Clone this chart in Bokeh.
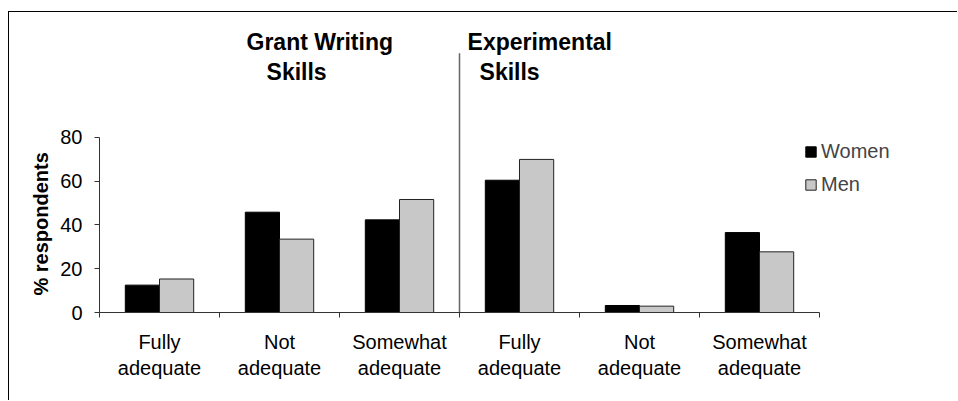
from bokeh.plotting import figure
from bokeh.models import Range1d, FixedTicker, Legend, LegendItem, ColumnDataSource, Label, Title
from bokeh.embed import file_html
from bokeh.resources import INLINE

# ---- data ----
categories = ["Fully\nadequate", "Not\nadequate", "Somewhat\nadequate",
              "Fully\nadequate", "Not\nadequate", "Somewhat\nadequate"]
women = [12.5, 45.8, 42.3, 60.4, 3.2, 36.5]
men = [15.3, 33.5, 51.6, 69.9, 2.9, 27.7]
y_ticks = [0, 20, 40, 60, 80]
panel_titles = [["Grant Writing", "Skills"], ["Experimental", "Skills"]]
series_names = ["Women", "Men"]
y_label = "% respondents"

# ---- layout constants ----
PX_X = 120.0
PX_Y = 2.19
W, H = 949, 389
LEFT, BOTTOM = 90, 89
FONT = "Liberation Sans"

n = len(categories)
centers = [i + 0.5 for i in range(n)]
bw = 0.285

frame_h = H - BOTTOM
p = figure(width=W, height=H,
           x_range=Range1d(0, (W - LEFT) / PX_X),
           y_range=Range1d(0, frame_h / PX_Y),
           output_backend="svg", toolbar_location=None,
           min_border_left=LEFT, min_border_bottom=BOTTOM,
           min_border_top=0, min_border_right=0)
p.styles = {"border-left": "1px solid #000", "border-top": "1px solid #000",
            "margin-top": "11px", "margin-left": "8px"}
p.outline_line_color = None
p.xgrid.visible = False
p.ygrid.visible = False
p.background_fill_color = "white"
p.border_fill_color = "white"

src = ColumnDataSource(dict(
    xw=[c - bw / 2 for c in centers],
    xm=[c + bw / 2 for c in centers],
    women=women, men=men))
rw = p.vbar(x="xw", top="women", width=bw, source=src,
            fill_color="black", line_color="black", line_width=1)
rm = p.vbar(x="xm", top="men", width=bw, source=src,
            fill_color="#C8C8C8", line_color="#222222", line_width=1)

# divider between the two panels
p.segment(x0=[n / 2], y0=[0], x1=[n / 2], y1=[118.4],
          line_color="#666666", line_width=1.5)

# x axis
xa = p.xaxis[0]
xa.ticker = FixedTicker(ticks=centers, minor_ticks=list(range(n + 1)))
xa.major_label_overrides = {c: lab for c, lab in zip(centers, categories)}
xa.major_tick_out = 0
xa.major_tick_in = 0
xa.minor_tick_out = 5
xa.minor_tick_in = 0
xa.minor_tick_line_color = "#333333"
xa.axis_line_color = "#333333"
xa.bounds = (0, n)
xa.major_label_standoff = 13
xa.major_label_text_font = FONT
xa.major_label_text_font_size = "20px"
xa.major_label_text_color = "black"

# y axis
ya = p.yaxis[0]
ya.ticker = FixedTicker(ticks=y_ticks, minor_ticks=[])
ya.bounds = (y_ticks[0], y_ticks[-1])
ya.major_tick_out = 5
ya.major_tick_in = 0
ya.major_tick_line_color = "#333333"
ya.axis_line_color = "#333333"
ya.major_label_standoff = 12
ya.major_label_text_font = FONT
ya.major_label_text_font_size = "20px"
ya.major_label_text_color = "black"

# y axis title, starting a little above the bottom of the axis
p.add_layout(Title(text=y_label, align="left", offset=17, standoff=12,
                   text_font=FONT, text_font_size="20px",
                   text_font_style="bold", text_color="black"), "left")

# panel titles
title_pos = [[(1.225, 123.6), (1.392, 109.9)], [(3.067, 123.6), (3.167, 109.9)]]
for lines, poss in zip(panel_titles, title_pos):
    for txt, (tx, ty) in zip(lines, poss):
        p.add_layout(Label(x=tx, y=ty, text=txt, text_font=FONT,
                           text_font_size="23px", text_font_style="bold",
                           text_color="black", text_baseline="alphabetic",
                           text_align="left"))

legend = Legend(items=[LegendItem(label=series_names[0], renderers=[rw]),
                       LegendItem(label=series_names[1], renderers=[rm])],
                location=(705, 116), glyph_width=13, glyph_height=13,
                label_text_font=FONT, label_text_font_size="20px",
                label_height=24, spacing=9, padding=0, margin=0,
                border_line_color=None, background_fill_alpha=0,
                label_standoff=4)
p.add_layout(legend)

open("out.html", "w").write(file_html(p, INLINE))
